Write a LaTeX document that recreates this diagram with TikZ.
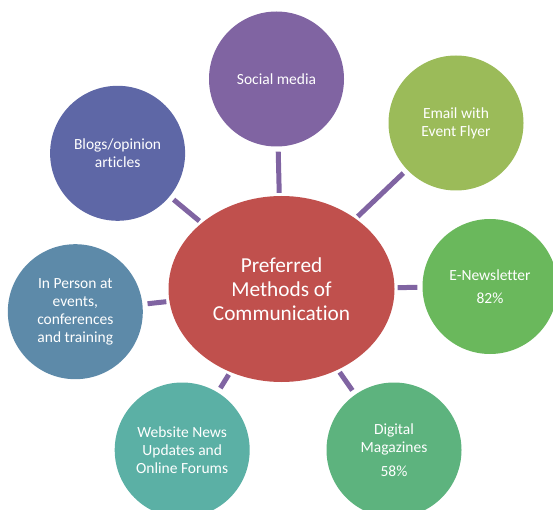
\documentclass[tikz,border=0pt]{standalone}
\usepackage{fontspec}
\setmainfont{Carlito}[Ligatures={NoCommon}]
\usetikzlibrary{shapes.geometric}
\definecolor{cCenter}{HTML}{C0504D}
\definecolor{cSocial}{HTML}{8064A2}
\definecolor{cEmail}{HTML}{9BBB59}
\definecolor{cNews}{HTML}{6AB85C}
\definecolor{cMag}{HTML}{5DB37E}
\definecolor{cWeb}{HTML}{5BB0A5}
\definecolor{cPerson}{HTML}{5D8AA9}
\definecolor{cBlog}{HTML}{5E67A6}
\definecolor{cLine}{HTML}{8064A2}
\tikzset{
  bubble/.style={circle, minimum size=135pt, inner sep=0pt, draw=none, text=white, align=center, font=\fontsize{15.5}{17.8}\selectfont},
  hub/.style={ellipse, minimum width=226pt, minimum height=186pt, inner sep=0pt, fill=cCenter, text=white, align=center, font=\fontsize{21.3}{23.7}\selectfont},
  conn/.style={draw=cLine, line width=5pt, shorten <=5pt, shorten >=3pt}
}
\begin{document}
\begin{tikzpicture}[x=1pt,y=-1pt]
\useasboundingbox (0,0) rectangle (553,510);
\clip (0,0) rectangle (553,510);
\node[hub] (hub) at (281.5,289) {Preferred\\Methods of\\Communication};
\node[bubble, fill=cSocial] (social) at (276.5,79) {Social media};
\node[bubble, fill=cEmail] (email) at (456,123) {Email with\\Event Flyer};
\node[bubble, fill=cNews] (news) at (490,286.5) {E-Newsletter\\[5.7pt]82\%};
\node[bubble, fill=cMag] (mag) at (394,450) {Digital\\Magazines\\[6pt]58\%};
\node[bubble, fill=cWeb] (web) at (182.2,450) {Website News\\Updates and\\Online Forums};
\node[bubble, fill=cPerson] (person) at (75.3,311.7) {In Person at\\events,\\conferences\\and training};
\node[bubble, fill=cBlog] (blog) at (117.6,153.3) {Blogs/opinion\\articles};
\foreach \n in {social,email,news,mag,web,person,blog}
  \draw[conn] (\n) -- (hub);
\end{tikzpicture}
\end{document}
